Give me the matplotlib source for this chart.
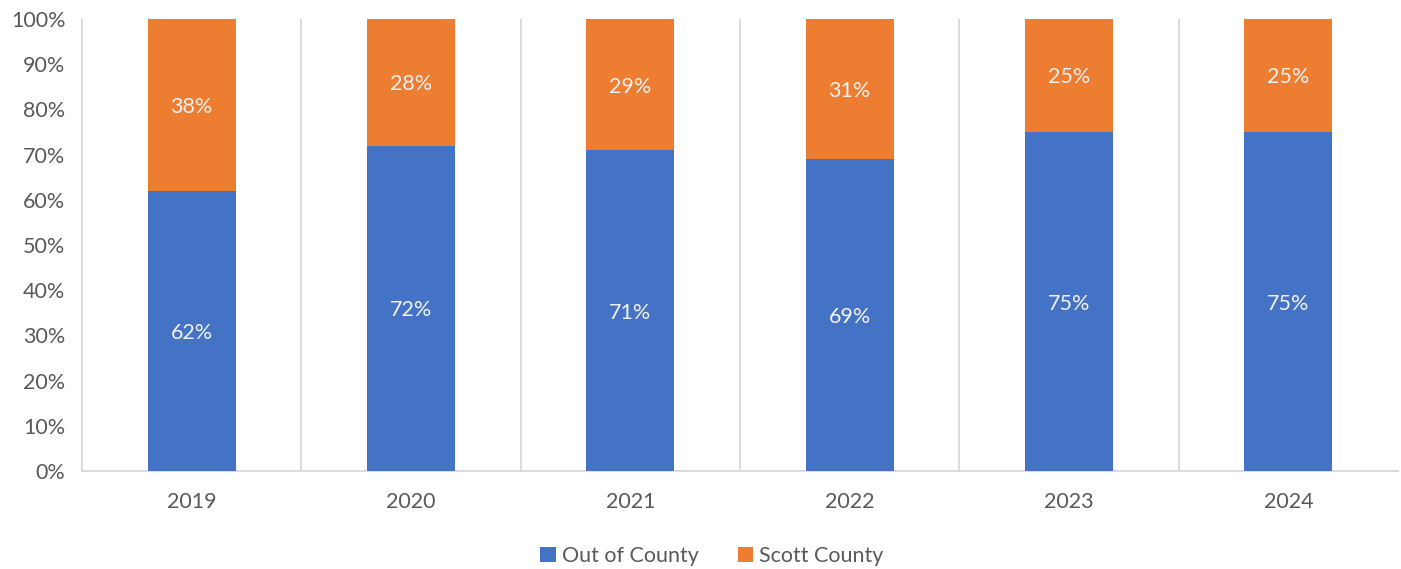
import numpy as np
import matplotlib.pyplot as plt

plt.rcParams['font.family'] = ['Lato', 'DejaVu Sans']

# Datos
anios = ['2019', '2020', '2021', '2022', '2023', '2024']
fuera_condado = [62, 72, 71, 69, 75, 75]
scott_county = [38, 28, 29, 31, 25, 25]

azul = '#4472C4'
naranja = '#ED7D31'
gris_texto = '#595959'
gris_linea = '#D9D9D9'

fig = plt.figure(figsize=(14.01, 5.69), dpi=100)
ax = fig.add_axes([82 / 1401, 98 / 569, 1316 / 1401, 452 / 569])

x = np.arange(len(anios))
ancho = 0.4
b1 = ax.bar(x, fuera_condado, ancho, color=azul, label='Out of County', zorder=3)
b2 = ax.bar(x, scott_county, ancho, bottom=fuera_condado, color=naranja,
            label='Scott County', zorder=3)

# Etiquetas de datos
for i in range(len(anios)):
    ax.text(x[i], fuera_condado[i] / 2, f'{fuera_condado[i]}%', ha='center',
            va='center_baseline', color='#F2F2F2', fontsize=15.5, zorder=4)
    ax.text(x[i], fuera_condado[i] + scott_county[i] / 2, f'{scott_county[i]}%',
            ha='center', va='center_baseline', color='#F2F2F2', fontsize=15.5, zorder=4)

ax.set_xlim(-0.5, len(anios) - 0.5)
ax.set_ylim(0, 100)
ax.set_yticks(range(0, 101, 10))
ax.set_yticklabels([f'{v}%' for v in range(0, 101, 10)])
ax.set_xticks(x)
ax.set_xticklabels(anios)

# Separadores verticales entre categorías
for sep in np.arange(0.5, len(anios) - 0.5, 1):
    ax.axvline(sep, color=gris_linea, lw=1.3, zorder=1)

for lado in ['top', 'right']:
    ax.spines[lado].set_visible(False)
ax.spines['left'].set_color(gris_linea)
ax.spines['bottom'].set_color(gris_linea)
ax.spines['left'].set_linewidth(1.3)
ax.spines['bottom'].set_linewidth(1.3)

ax.tick_params(axis='both', length=0, labelsize=15.5, labelcolor=gris_texto)
ax.tick_params(axis='x', pad=15)
ax.tick_params(axis='y', pad=12)

fig.legend(handles=[b1, b2], loc='center', bbox_to_anchor=(712 / 1401, 1 - 556 / 569),
           ncol=2, frameon=False, fontsize=15.5, labelcolor=gris_texto,
           handlelength=0.7, handleheight=0.7, handletextpad=0.3, columnspacing=1.8)

fig.savefig('out.png', dpi=100)
